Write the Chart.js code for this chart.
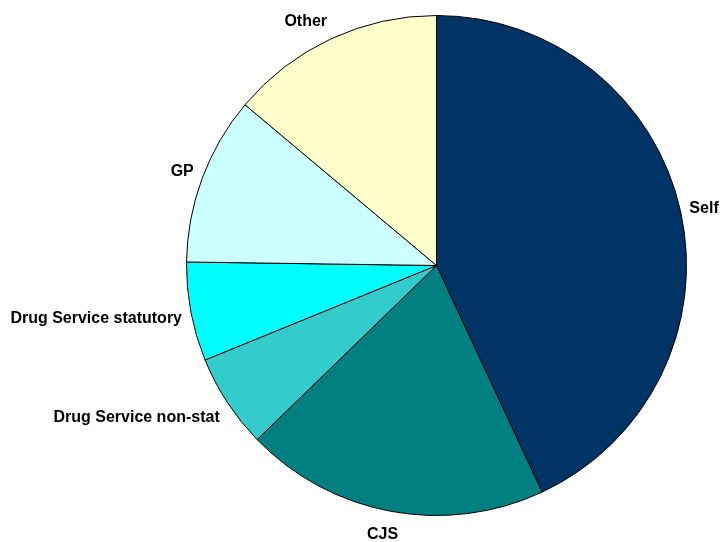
<!DOCTYPE html>
<html>
<head>
<meta charset="utf-8">
<script src="https://cdn.jsdelivr.net/npm/chart.js@4/dist/chart.umd.min.js"></script>
<style>
  html, body { margin: 0; padding: 0; background: #fff; }
  #wrap { width: 720px; height: 542px; }
</style>
</head>
<body>
<div id="wrap"><canvas id="pie"></canvas></div>
<script>
// ---------- DATA ----------
const categories = ["Self", "CJS", "Drug Service non-stat", "Drug Service statutory", "GP", "Other"];
const shares = [43.1, 19.7, 6.1, 6.4, 10.9, 13.9];
const sliceColors = ["#003366", "#008080", "#33CCCC", "#00FFFF", "#CCFFFF", "#FFFFCC"];

// ---------- Outside labels ----------
// each label sits just past the rim on the slice's mid angle,
// pushed away from the pie depending on which side it falls
const outsideLabels = {
  id: 'outsideLabels',
  afterDatasetsDraw(chart) {
    const ctx = chart.ctx;
    const arcs = chart.getDatasetMeta(0).data;
    const clamp = v => Math.max(-1, Math.min(1, v));
    ctx.save();
    ctx.font = 'bold 16px "Liberation Sans", Arial, sans-serif';
    ctx.fillStyle = '#000';
    ctx.textAlign = 'center';
    ctx.textBaseline = 'middle';
    arcs.forEach((arc, i) => {
      const mid = (arc.startAngle + arc.endAngle) / 2;
      const cx = Math.cos(mid), sy = Math.sin(mid);
      const px = arc.x + cx * (arc.outerRadius + 9);
      const py = arc.y + sy * (arc.outerRadius + 19) + 2;
      const w = ctx.measureText(categories[i]).width;
      const x = px + (w / 2) * clamp(2.5 * cx);
      const y = py + 2.5 * clamp(2 * sy);
      ctx.fillText(categories[i], x, y);
    });
    ctx.restore();
  }
};

new Chart(document.getElementById('pie').getContext('2d'), {
  type: 'pie',
  data: {
    labels: categories,
    datasets: [{
      data: shares,
      backgroundColor: sliceColors,
      borderColor: '#000',
      borderWidth: 1,
      borderAlign: 'center'
    }]
  },
  options: {
    responsive: true,
    maintainAspectRatio: false,
    animation: false,
    layout: { padding: { left: 186, right: 33, top: 15, bottom: 26 } },
    plugins: {
      legend: { display: false },
      tooltip: { enabled: false }
    }
  },
  plugins: [outsideLabels]
});
</script>
</body>
</html>
